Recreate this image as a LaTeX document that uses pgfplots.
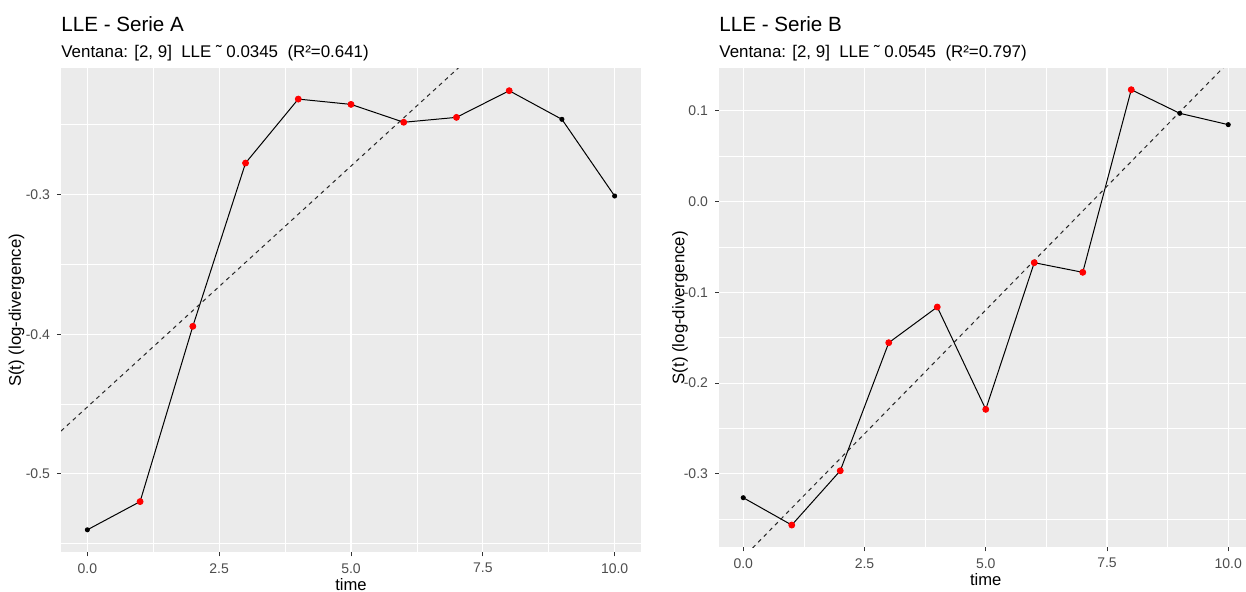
\documentclass[border=0pt]{standalone}
\usepackage{fontspec}
\setmainfont{Liberation Sans}
\usepackage{pgfplots}
\pgfplotsset{compat=1.18}
\definecolor{panelbg}{HTML}{EBEBEB}
\definecolor{tickgray}{HTML}{4D4D4D}
\definecolor{tickmark}{HTML}{333333}
\definecolor{ggred}{HTML}{FF0000}

\pgfplotsset{gg/.style={
  scale only axis,
  axis background/.style={fill=panelbg},
  axis line style={draw=none},
  grid=both,
  major grid style={white, line width=0.55pt},
  minor grid style={white, line width=0.28pt},
  tick align=outside,
  major tick length=2pt,
  minor tick length=0pt,
  tick style={tickmark, line width=0.5pt},
  xtick pos=bottom,
  ytick pos=left,
  ticklabel style={font=\fontsize{7}{8}\selectfont, text=tickgray},
  xmin=-0.5, xmax=10.5,
  xtick={0,2.5,5,7.5,10},
  xticklabels={0.0,2.5,5.0,7.5,10.0},
  minor xtick={1.25,3.75,6.25,8.75},
  xlabel={time},
  ylabel={S(t) (log-divergence)},
  every axis x label/.style={at={(axis description cs:0.5,0)},anchor=base,yshift=-19.2pt,font=\fontsize{8.3}{9}\selectfont},
  clip=true,
}}

\begin{document}
\begin{tikzpicture}
\path[use as bounding box] (0,0) rectangle (623pt,296pt);

% ---------- Serie A ----------
\begin{axis}[gg,
  at={(30.5pt,19.85pt)}, anchor=south west,
  width=290pt, height=241.9pt,
  ymin=-0.5561, ymax=-0.2097,
  ytick={-0.5,-0.4,-0.3},
  yticklabels={-0.5,-0.4,-0.3},
  minor ytick={-0.55,-0.45,-0.35,-0.25},
  every axis y label/.style={at={(axis description cs:-0.0767,0.5)},rotate=90,anchor=center,font=\fontsize{8.4}{9}\selectfont},
]
\addplot[black, line width=0.5pt, mark=*, mark size=1pt, mark options={fill=black}] coordinates {
 (0,-0.5400) (1,-0.5198) (2,-0.3943) (3,-0.2774) (4,-0.2316) (5,-0.2354)
 (6,-0.2482) (7,-0.2447) (8,-0.2256) (9,-0.2461) (10,-0.3010)};
\addplot[only marks, mark=*, mark size=1.5pt, ggred, mark options={fill=ggred, draw=ggred}] coordinates {
 (1,-0.5198) (2,-0.3943) (3,-0.2774) (4,-0.2316) (5,-0.2354)
 (6,-0.2482) (7,-0.2447) (8,-0.2256)};
\addplot[black!85, line width=0.5pt, dash pattern=on 2pt off 2pt] coordinates {(-0.5,-0.4693) (10.5,-0.0898)};
\end{axis}

% ---------- Serie B ----------
\begin{axis}[gg,
  at={(359.5pt,22.35pt)}, anchor=south west,
  width=266.75pt, height=239.5pt,
  ymin=-0.3808, ymax=0.1467,
  ytick={-0.3,-0.2,-0.1,0,0.1},
  yticklabels={-0.3,-0.2,-0.1,0.0,0.1},
  minor ytick={-0.35,-0.25,-0.15,-0.05,0.05},
  every axis y label/.style={at={(axis description cs:-0.0731,0.5)},rotate=90,anchor=center,font=\fontsize{8.4}{9}\selectfont},
]
\addplot[black, line width=0.5pt, mark=*, mark size=1pt, mark options={fill=black}] coordinates {
 (0,-0.3262) (1,-0.3563) (2,-0.2965) (3,-0.1555) (4,-0.1162) (5,-0.2289)
 (6,-0.0674) (7,-0.0780) (8,0.1231) (9,0.0971) (10,0.0846)};
\addplot[only marks, mark=*, mark size=1.5pt, ggred, mark options={fill=ggred, draw=ggred}] coordinates {
 (1,-0.3563) (2,-0.2965) (3,-0.1555) (4,-0.1162) (5,-0.2289)
 (6,-0.0674) (7,-0.0780) (8,0.1231)};
\addplot[black!85, line width=0.5pt, dash pattern=on 2pt off 2pt] coordinates {(-0.5,-0.4193) (10.5,0.1803)};
\end{axis}

% ---------- Titles ----------
\node[anchor=base west, inner sep=0pt, font=\fontsize{10.3}{12}\selectfont] at (30.5pt,280.2pt) {LLE - Serie A};
\node[anchor=base west, inner sep=0pt, font=\fontsize{8.45}{9}\selectfont] at (30.5pt,267.4pt) {Ventana: [2, 9]\ \ LLE ˜ 0.0345\ \ (R²=0.641)};
\node[anchor=base west, inner sep=0pt, font=\fontsize{10.3}{12}\selectfont] at (359.5pt,280.2pt) {LLE - Serie B};
\node[anchor=base west, inner sep=0pt, font=\fontsize{8.45}{9}\selectfont] at (359.5pt,267.4pt) {Ventana: [2, 9]\ \ LLE ˜ 0.0545\ \ (R²=0.797)};
\end{tikzpicture}
\end{document}
